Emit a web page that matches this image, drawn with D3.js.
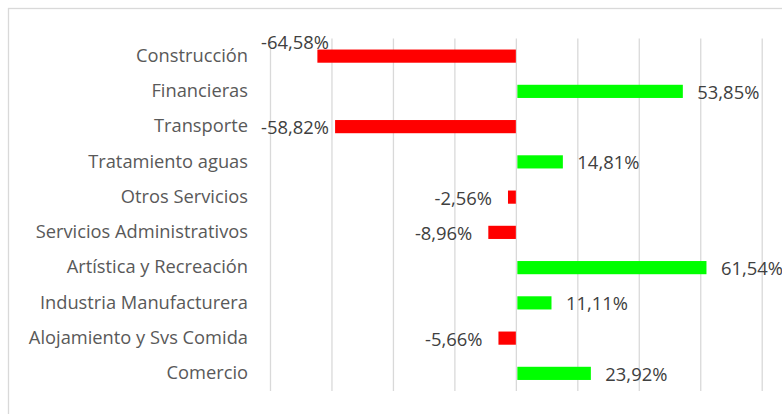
<!DOCTYPE html>
<html>
<head>
<meta charset="utf-8">
<style>
  body { margin: 0; background: #fff; }
  svg { display: block; }
  .grid line { stroke: #d9d9d9; stroke-width: 1.3; }
  .cat text { font-family: "Open Sans", sans-serif; font-size: 18.3px; fill: #595959; }
  .val { font-family: "Open Sans", sans-serif; font-size: 18.4px; fill: #404040; }
</style>
</head>
<body>
<div id="chart"></div>
<script src="https://cdn.jsdelivr.net/npm/d3@7"></script>
<script>
const categories = [
  "Construcción",
  "Financieras",
  "Transporte",
  "Tratamiento aguas",
  "Otros Servicios",
  "Servicios Administrativos",
  "Artística y Recreación",
  "Industria Manufacturera",
  "Alojamiento y Svs Comida",
  "Comercio"
];
const variacion = [-64.58, 53.85, -58.82, 14.81, -2.56, -8.96, 61.54, 11.11, -5.66, 23.92];
const gridTicks = [-80, -60, -40, -20, 0, 20, 40, 60, 80];

const width = 782, height = 414;
const plot = { left: 270, right: 761.7, top: 38.5, bottom: 391 };

const svg = d3.select("#chart").append("svg")
  .attr("width", width)
  .attr("height", height);

// chart frame (runs off the right and bottom edge like the original)
svg.append("rect")
  .attr("x", 8.5).attr("y", 8.5)
  .attr("width", 800).attr("height", 420)
  .attr("fill", "none")
  .attr("stroke", "#d9d9d9")
  .attr("stroke-width", 1.3);

const x = d3.scaleLinear().domain([-80, 80]).range([plot.left, plot.right]);
const y = d3.scaleBand().domain(categories)
  .range([plot.top, plot.bottom])
  .paddingInner(0.626)
  .paddingOuter(0.313);

// vertical gridlines
svg.append("g")
  .attr("class", "grid")
  .attr("transform", `translate(0,${plot.bottom})`)
  .call(d3.axisBottom(x).tickValues(gridTicks).tickSize(-(plot.bottom - plot.top)).tickFormat(""))
  .call(g => g.select(".domain").remove());

// category labels
svg.append("g")
  .attr("class", "cat")
  .attr("transform", `translate(${plot.left},0)`)
  .call(d3.axisLeft(y).tickSize(0).tickPadding(22))
  .call(g => g.select(".domain").remove());

const data = categories.map((c, i) => ({ cat: c, v: variacion[i] }));

svg.append("g").selectAll("rect")
  .data(data)
  .join("rect")
  .attr("x", d => d.v < 0 ? x(d.v) : x(0) + 1.5)
  .attr("y", d => y(d.cat))
  .attr("width", d => Math.abs(x(d.v) - x(0)))
  .attr("height", y.bandwidth())
  .attr("fill", d => d.v < 0 ? "#ff0000" : "#00ff00");

const fmt = v => (v < 0 ? "-" : "") + Math.abs(v).toFixed(2).replace(".", ",") + "%";

// value labels, outside end; pushed back inside the plot when too far left
const labels = svg.append("g").selectAll("text")
  .data(data)
  .join("text")
  .attr("class", "val")
  .attr("dy", "0.35em")
  .text(d => fmt(d.v));

labels.each(function (d) {
  const t = d3.select(this);
  const w = this.getComputedTextLength();
  const cy = y(d.cat) + y.bandwidth() / 2 + 1;
  if (d.v >= 0) {
    t.attr("x", x(d.v) + 16).attr("y", cy).attr("text-anchor", "start");
  } else {
    let right = x(d.v) - 16;
    let cyy = cy;
    if (right - w < plot.left - 9) {
      right = plot.left - 9 + w;
      if (right > x(d.v) - 2) cyy = cy - 14.5;
    }
    t.attr("x", right).attr("y", cyy).attr("text-anchor", "end");
  }
});
</script>
</body>
</html>
